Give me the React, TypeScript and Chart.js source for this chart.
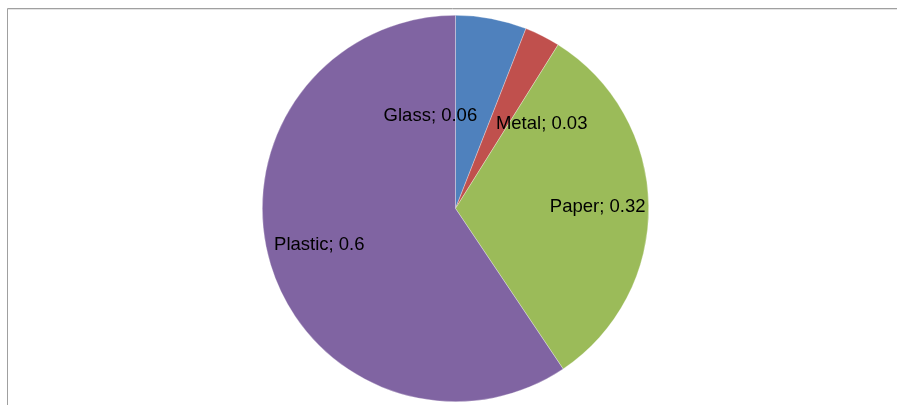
import React, { useEffect, useRef } from "react";
import { Chart, registerables } from "chart.js";

Chart.register(...registerables);

// Waste composition shares
const categories = ["Glass", "Metal", "Paper", "Plastic"];
const shares = [0.06, 0.03, 0.32, 0.6];
const sliceColors = ["#4F81BD", "#C0504D", "#9BBB59", "#8064A2"];

// Label anchor for each slice, as a fraction of the pie radius from its centre
const labelOffsets: [number, number][] = [
  [-0.13, -0.477],
  [0.446, -0.436],
  [0.736, -0.006],
  [-0.705, 0.186],
];

const frame = {
  id: "frame",
  beforeDraw(chart: Chart) {
    const ctx = chart.ctx;
    ctx.save();
    ctx.strokeStyle = "#a0a0a0";
    ctx.lineWidth = 1;
    ctx.beginPath();
    ctx.moveTo(7.5, chart.height);
    ctx.lineTo(7.5, 8.5);
    ctx.lineTo(chart.width, 8.5);
    ctx.stroke();
    ctx.strokeStyle = "#e4e4e4";
    ctx.beginPath();
    ctx.moveTo(8, 9.5);
    ctx.lineTo(chart.width, 9.5);
    ctx.stroke();
    ctx.restore();
  },
};

const sliceLabels = {
  id: "sliceLabels",
  afterDatasetsDraw(chart: Chart) {
    const ctx = chart.ctx;
    const meta = chart.getDatasetMeta(0);
    ctx.save();
    ctx.font = '18.5px "Liberation Sans", Arial, sans-serif';
    ctx.fillStyle = "#000000";
    ctx.textAlign = "center";
    ctx.textBaseline = "middle";
    meta.data.forEach((el: any, i: number) => {
      const r = el.outerRadius;
      const [fx, fy] = labelOffsets[i];
      ctx.fillText(`${categories[i]}; ${shares[i]}`, el.x + fx * r, el.y + fy * r);
    });
    ctx.restore();
  },
};

export default function App() {
  const ref = useRef<HTMLCanvasElement>(null);

  useEffect(() => {
    if (!ref.current) return;
    const chart = new Chart(ref.current, {
      type: "pie",
      data: {
        labels: categories,
        datasets: [
          {
            data: shares,
            backgroundColor: sliceColors,
            borderColor: "rgba(255,255,255,0.5)",
            borderWidth: 0.6,
          },
        ],
      },
      options: {
        animation: false,
        responsive: false,
        maintainAspectRatio: false,
        layout: { padding: { left: 262, right: 248, top: 15, bottom: 3 } },
        plugins: {
          legend: { display: false },
          tooltip: { enabled: false },
        },
      },
      plugins: [frame, sliceLabels],
    });
    return () => chart.destroy();
  }, []);

  return (
    <div style={{ position: "fixed", left: 0, top: 0, width: 897, height: 405, background: "#ffffff" }}>
      <canvas ref={ref} width={897} height={405} style={{ display: "block", width: 897, height: 405 }} />
    </div>
  );
}
